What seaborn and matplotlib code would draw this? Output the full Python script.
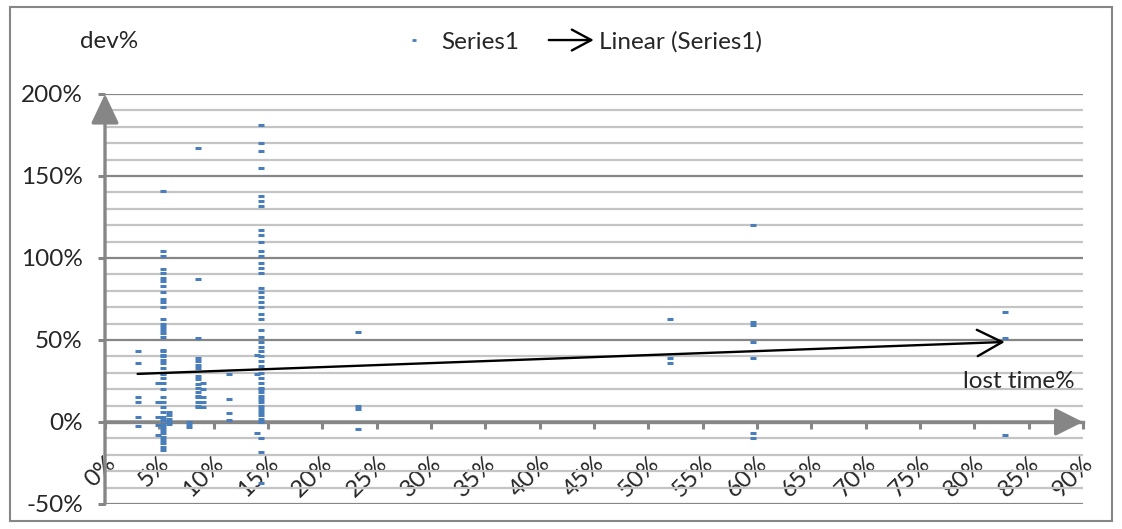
import numpy as np
import pandas as pd
import matplotlib
matplotlib.use("Agg")
import matplotlib.pyplot as plt
import matplotlib.transforms as mtransforms
import seaborn as sns
from matplotlib.patches import FancyArrowPatch, Rectangle
from matplotlib.lines import Line2D
from matplotlib.legend_handler import HandlerBase
from matplotlib.ticker import MultipleLocator, FuncFormatter

# lost time % (x) per cluster and dev % (y) values
cluster_x = [3.0, 4.9, 5.3, 5.9, 7.7, 8.6, 9.0, 11.4, 14.0, 14.4, 23.3, 52.0, 59.6, 82.8]
cluster_y = [
    [43, 36, 15, 12, 3, -2.5],
    [24, 12, 3, -2, -8],
    [141, 104, 101, 93, 91, 88, 86, 83, 79, 75, 73, 70, 63, 60, 58, 56, 54, 52,
     44, 43, 41, 40, 38, 36, 33, 30, 29, 27, 24, 20, 15, 12, 9, 6, 3, 1,
     -1, -3, -5, -7, -9, -11, -13, -15, -17],
    [6, 4, 2, 0, -1],
    [0, -1, -3],
    [167, 87, 51, 39, 37, 35, 33, 28, 26, 23, 21, 18, 16, 15, 12, 10, 9],
    [24, 20, 15, 12, 9],
    [29, 14, 5.5, 1],
    [41, 29, -7],
    [181, 170, 165, 155, 138, 135, 132, 117, 114, 110, 104, 101, 97, 94, 91,
     82, 79, 76, 73, 70, 66, 63, 56, 52, 49, 46, 43, 40, 37, 34, 30, 27, 24,
     21, 20, 18, 16, 14, 12, 10, 8, 6, 4, 2, 0, -10, -18, -37],
    [55, 10, 8, -4],
    [63, 39, 36],
    [120, 61, 59, 49, 39, -7, -10],
    [67, 51, -8],
]
# Linear (Series1) trend line as shown by Excel
trend_intercept = 28.6
trend_slope = 0.244

x_ticks = list(range(0, 91, 5))
y_ticks = list(range(-50, 201, 50))

rows = []
for cx, ys in zip(cluster_x, cluster_y):
    for cy in ys:
        rows.append((cx, cy))
df = pd.DataFrame(rows, columns=["lost", "dev"])

sns.set_theme(style="white")
plt.rcParams["font.family"] = ["Lato", "DejaVu Sans"]
fs = 17.5
blue = "#4A7EBB"
grey = "#868686"

fig = plt.figure(figsize=(11.22, 5.29), dpi=100)
ax = fig.add_axes([105 / 1122, 25 / 529, 978 / 1122, 410 / 529])

sns.scatterplot(data=df, x="lost", y="dev", marker="_", s=14, linewidth=2.2,
                color=blue, ax=ax, zorder=4, legend=False)

ax.set_xlim(0, 90)
ax.set_ylim(-50, 200)
ax.set_xticks(x_ticks)
ax.set_yticks(y_ticks)
ax.yaxis.set_minor_locator(MultipleLocator(10))
pct = FuncFormatter(lambda v, p: f"{v:.0f}%")
ax.xaxis.set_major_formatter(pct)
ax.yaxis.set_major_formatter(pct)
ax.grid(False)
ax.yaxis.grid(True, which="major", color=grey, lw=1.6, zorder=0)
ax.yaxis.grid(True, which="minor", color="#C4C4C4", lw=1.6, zorder=0)
ax.set_xlabel("")
ax.set_ylabel("")

for s in ["top", "right", "left"]:
    ax.spines[s].set_visible(False)
ax.spines["bottom"].set_position(("data", 0))
ax.spines["bottom"].set_color(grey)
ax.spines["bottom"].set_linewidth(2.4)
ax.spines["bottom"].set_zorder(2)

ax.tick_params(axis="y", which="major", left=True, length=5, width=2.2, color=grey,
               labelsize=fs, pad=11)
ax.tick_params(axis="y", which="minor", left=False)
ax.tick_params(axis="x", bottom=True, length=5, width=2.2, color=grey,
               labelsize=fs, pad=12)
shift = mtransforms.ScaledTranslation(7 / 100, -14 / 100, fig.dpi_scale_trans)
for lab in ax.get_xticklabels():
    lab.set_rotation(45)
    lab.set_rotation_mode("anchor")
    lab.set_ha("right")
    lab.set_va("center")
    lab.set_transform(lab.get_transform() + shift)

# axis arrows
ax.annotate("", xy=(0, 200), xytext=(0, -50), xycoords="data",
            arrowprops=dict(arrowstyle="-|>,head_length=1.8,head_width=0.85",
                            mutation_scale=10, color=grey, lw=2.4,
                            shrinkA=0, shrinkB=0),
            annotation_clip=False, zorder=3)
ax.annotate("", xy=(90, 0), xytext=(0, 0), xycoords="data",
            arrowprops=dict(arrowstyle="-|>,head_length=1.7,head_width=0.85",
                            mutation_scale=10, color=grey, lw=2.4,
                            shrinkA=0, shrinkB=0),
            annotation_clip=False, zorder=3)

# trend line with open arrow head
x0, x1 = df["lost"].min(), df["lost"].max()
ax.annotate("", xy=(x1, trend_intercept + trend_slope * x1),
            xytext=(x0, trend_intercept + trend_slope * x0),
            arrowprops=dict(arrowstyle="->,head_length=1.8,head_width=0.95",
                            mutation_scale=10, color="black", lw=1.7,
                            shrinkA=0, shrinkB=0),
            zorder=5)


class ArrowHandler(HandlerBase):
    def create_artists(self, legend, orig_handle, xdescent, ydescent, width,
                       height, fontsize, trans):
        y = height / 2 - ydescent
        a = FancyArrowPatch((-xdescent, y), (width - xdescent, y),
                            arrowstyle="->,head_length=1.4,head_width=0.75",
                            mutation_scale=10, color="black", lw=1.7,
                            shrinkA=0, shrinkB=0, transform=trans)
        return [a]


h_pts = Line2D([], [], marker="_", ls="", color=blue, ms=3.5, mew=2)
h_trend = Line2D([], [], color="black")
fig.legend([h_pts, h_trend], ["Series1", "Linear (Series1)"], loc="center",
           bbox_to_anchor=(0.514, 0.921), ncol=2, frameon=False, fontsize=fs,
           handlelength=1.85, handletextpad=0.2, columnspacing=1.2,
           borderpad=0, handler_map={h_trend: ArrowHandler()})

fig.text(80 / 1122, 1 - 42 / 529, "dev%", fontsize=fs, va="center", ha="left")
fig.text(1075 / 1122, 1 - 382 / 529, "lost time%", fontsize=fs, va="center", ha="right")

fig.patches.append(Rectangle((10 / 1122, 8 / 529), 1102 / 1122, 514 / 529,
                             transform=fig.transFigure, fill=False,
                             edgecolor=grey, lw=1.5))

fig.savefig("out.png", dpi=100)
